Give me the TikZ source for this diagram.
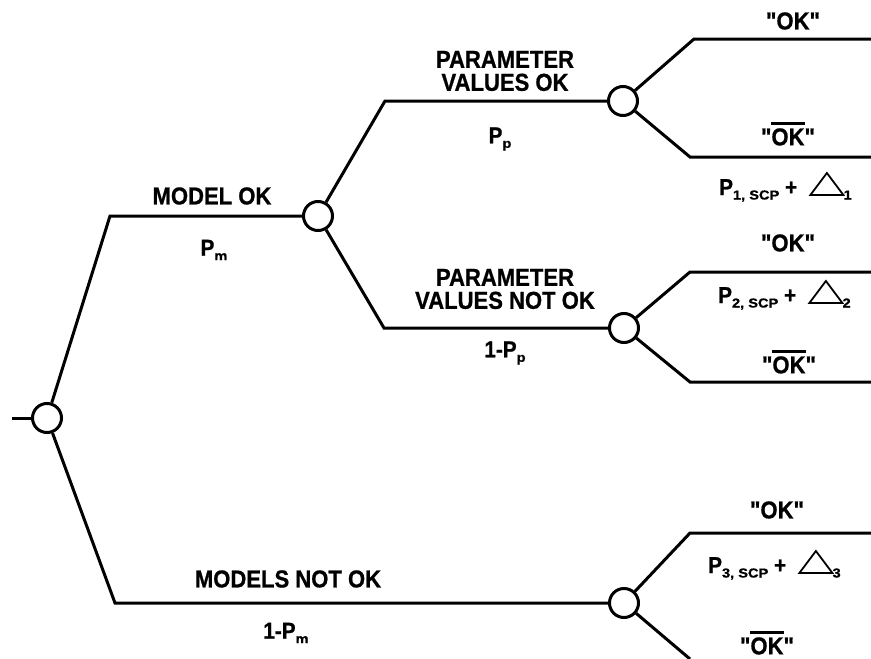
\documentclass[tikz,border=0pt]{standalone}
\usepackage{graphicx}
\usepackage{fontspec}
\setmainfont{Liberation Sans}[Ligatures=TeXOff, FakeStretch=0.9, BoldFeatures={FakeBold=0.8}]
\newcommand\ovl[1]{\leavevmode\vbox{\hrule height 2.4pt\kern 3.5pt\hbox{#1}}}
\newcommand\sub[1]{\raisebox{-4.5pt}{\scalebox{1.25}[1]{\fontsize{13}{13}\selectfont #1}}}
\begin{document}
\begin{tikzpicture}[x=1pt,y=-1pt,
  dot/.style={circle, draw, line width=3pt, fill=white, minimum size=29pt, inner sep=0pt},
  branch/.style={line width=3pt, line join=miter},
  lbl/.style={inner sep=0pt, font=\bfseries\fontsize{24.5}{23}\selectfont, align=center},
  plbl/.style={inner sep=0pt, font=\bfseries\fontsize{23}{21}\selectfont},
  tri/.style={line width=1.8pt, line join=miter}]
\useasboundingbox (0,0) rectangle (871,659);

% coordinates
\coordinate (start) at (12,418);
\coordinate (cM) at (110,216);
\coordinate (cMN) at (115,603);
\coordinate (cPO) at (385,101);
\coordinate (cPN) at (384,328);
\coordinate (cB1) at (694,39);
\coordinate (cB2) at (690,157);
\coordinate (cC1) at (690,272);
\coordinate (cC2) at (690,382);
\coordinate (cD1) at (690,533);
\coordinate (cD2) at (690,659);
\coordinate (eB1) at (871,39);
\coordinate (eB2) at (871,157);
\coordinate (eC1) at (871,272);
\coordinate (eC2) at (871,382);
\coordinate (eD1) at (871,533);

% circles
\node[dot] (root) at (47,418) {};
\node[dot] (A) at (318,216) {};
\node[dot] (B) at (623,101) {};
\node[dot] (C) at (624,328) {};
\node[dot] (D) at (624,603) {};

% branches
\draw[branch] (start) -- (root);
\draw[branch] (root) -- (cM) -- (A);
\draw[branch] (root) -- (cMN) -- (D);
\draw[branch] (A) -- (cPO) -- (B);
\draw[branch] (A) -- (cPN) -- (C);
\draw[branch] (B) -- (cB1) -- (eB1);
\draw[branch] (B) -- (cB2) -- (eB2);
\draw[branch] (C) -- (cC1) -- (eC1);
\draw[branch] (C) -- (cC2) -- (eC2);
\draw[branch] (D) -- (cD1) -- (eD1);
\draw[branch] (D) -- (cD2);

% left labels
\node[lbl] (lmok) at (212,196) {MODEL OK};
\node[plbl] (lpm) at (214,250) {P\sub{m}};
\node[lbl] (lpvo) at (505,71) {PARAMETER\\VALUES OK};
\node[plbl] (lpp) at (500,139) {P\sub{p}};
\node[lbl] (lpvn) at (505,289) {PARAMETER\\VALUES NOT OK};
\node[plbl] (l1pp) at (505,353) {1-P\sub{p}};
\node[lbl] (lmnok) at (288,579) {MODELS NOT OK};
\node[plbl] (l1pm) at (286,633) {1-P\sub{m}};

% right labels, B
\node[lbl] (okB) at (793,21) {"OK"};
\node[lbl] (nokB) at (788,134) {"\ovl{OK}"};
\node[plbl, anchor=base west] (pB) at (719,195) {P\sub{1, SCP} +};
\draw[tri] ([xshift=13pt]pB.base east) -- ++(33,0) -- ++(-16.5,-22) -- cycle;
\node[plbl, anchor=base west] (sB) at ([xshift=46pt]pB.base east) {\sub{1}};

% right labels, C
\node[lbl] (okC) at (788,243) {"OK"};
\node[plbl, anchor=base west] (pC) at (718,303) {P\sub{2, SCP} +};
\draw[tri] ([xshift=13pt]pC.base east) -- ++(33,0) -- ++(-16.5,-22) -- cycle;
\node[plbl, anchor=base west] (sC) at ([xshift=46pt]pC.base east) {\sub{2}};
\node[lbl] (nokC) at (789,362) {"\ovl{OK}"};

% right labels, D
\node[lbl] (okD) at (777,510) {"OK"};
\node[plbl, anchor=base west] (pD) at (708,573) {P\sub{3, SCP} +};
\draw[tri] ([xshift=13pt]pD.base east) -- ++(33,0) -- ++(-16.5,-22) -- cycle;
\node[plbl, anchor=base west] (sD) at ([xshift=46pt]pD.base east) {\sub{3}};
\node[lbl] (nokD) at (767,643) {"\ovl{OK}"};
\end{tikzpicture}
\end{document}
